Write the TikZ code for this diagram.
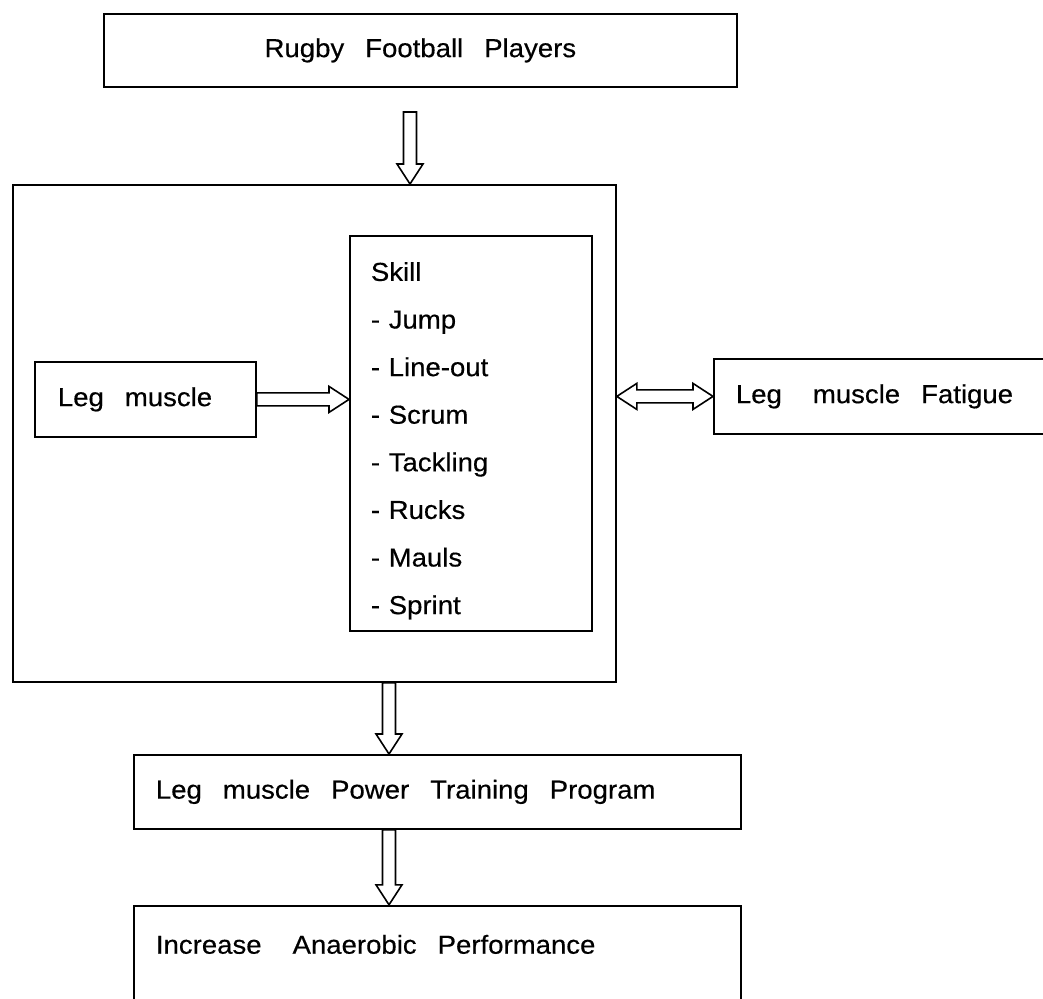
\documentclass[tikz,border=0pt]{standalone}
\usepackage{fontspec}
\setmainfont{Liberation Sans}[FakeStretch=1.06,FakeBold=0.4]
\usetikzlibrary{calc,positioning}

\newcommand{\gap}{\hspace{21pt}}
\newcommand{\wgap}{\hspace{31pt}}
\newcommand{\fatarrow}[2]{%
  \draw[fat] let \p1=(#1), \p2=(#2), \n1={veclen(\x2-\x1,\y2-\y1)}, \n2={atan2(\y2-\y1,\x2-\x1)} in
    {[shift={(\p1)},rotate=\n2] (0pt,6.5pt) -- (\n1-20pt,6.5pt) -- (\n1-20pt,13pt) -- (\n1,0pt)
      -- (\n1-20pt,-13pt) -- (\n1-20pt,-6.5pt) -- (0pt,-6.5pt) -- cycle};}
\newcommand{\fatdarrow}[2]{%
  \draw[fat] let \p1=(#1), \p2=(#2), \n1={veclen(\x2-\x1,\y2-\y1)}, \n2={atan2(\y2-\y1,\x2-\x1)} in
    {[shift={(\p1)},rotate=\n2] (0pt,0pt) -- (20pt,13pt) -- (20pt,6.5pt) -- (\n1-20pt,6.5pt) -- (\n1-20pt,13pt)
      -- (\n1,0pt) -- (\n1-20pt,-13pt) -- (\n1-20pt,-6.5pt) -- (20pt,-6.5pt) -- (20pt,-13pt) -- cycle};}

\begin{document}
\begin{tikzpicture}[x=1pt,y=-1pt,font=\fontsize{26}{31}\selectfont]
\tikzstyle{box}=[rectangle, draw=black, line width=1.8pt, inner ysep=0pt, anchor=north west, align=left]
\tikzstyle{fat}=[line width=1.6pt, fill=white, line join=miter]
\useasboundingbox (0,0) rectangle (1043,998);
\node[box,minimum width=633pt,minimum height=73pt,align=center] (rugby) at (103,13) {Rugby\gap Football\gap Players};
\node[box,minimum width=603pt,minimum height=497pt] (frame) at (12,184) {};
\node[box,text width=200pt,inner xsep=21pt,text height=45pt,text depth=350pt,font=\fontsize{26}{47.6}\selectfont] (skill) at (349,235)
  {Skill\\- Jump\\- Line-out\\- Scrum\\- Tackling\\- Rucks\\- Mauls\\- Sprint};
\node[box,text width=175pt,inner xsep=23pt,minimum height=75pt] (legm) at (34,361) {Leg\gap muscle};
\node[box,text width=303pt,inner xsep=22pt,minimum height=75pt] (fatig) at (713,358) {Leg\wgap muscle\gap Fatigue};
\node[box,text width=563pt,inner xsep=22pt,minimum height=74pt] (power) at (133,754) {Leg\gap muscle\gap Power\gap Training\gap Program};
\node[box,text width=563pt,inner xsep=22pt,text height=48pt,text depth=72pt] (perf) [below right=75pt and 0pt of power.south west] {Increase\wgap Anaerobic\gap Performance};
\coordinate (top) at (410,112);
\coordinate (col) at (389,0);
\fatarrow{top}{top |- frame.north}
\fatarrow{legm.east}{legm.east -| skill.west}
\fatdarrow{frame.east |- fatig.west}{fatig.west}
\fatarrow{frame.south -| col}{power.north -| col}
\fatarrow{power.south -| col}{perf.north -| col}
\end{tikzpicture}
\end{document}
